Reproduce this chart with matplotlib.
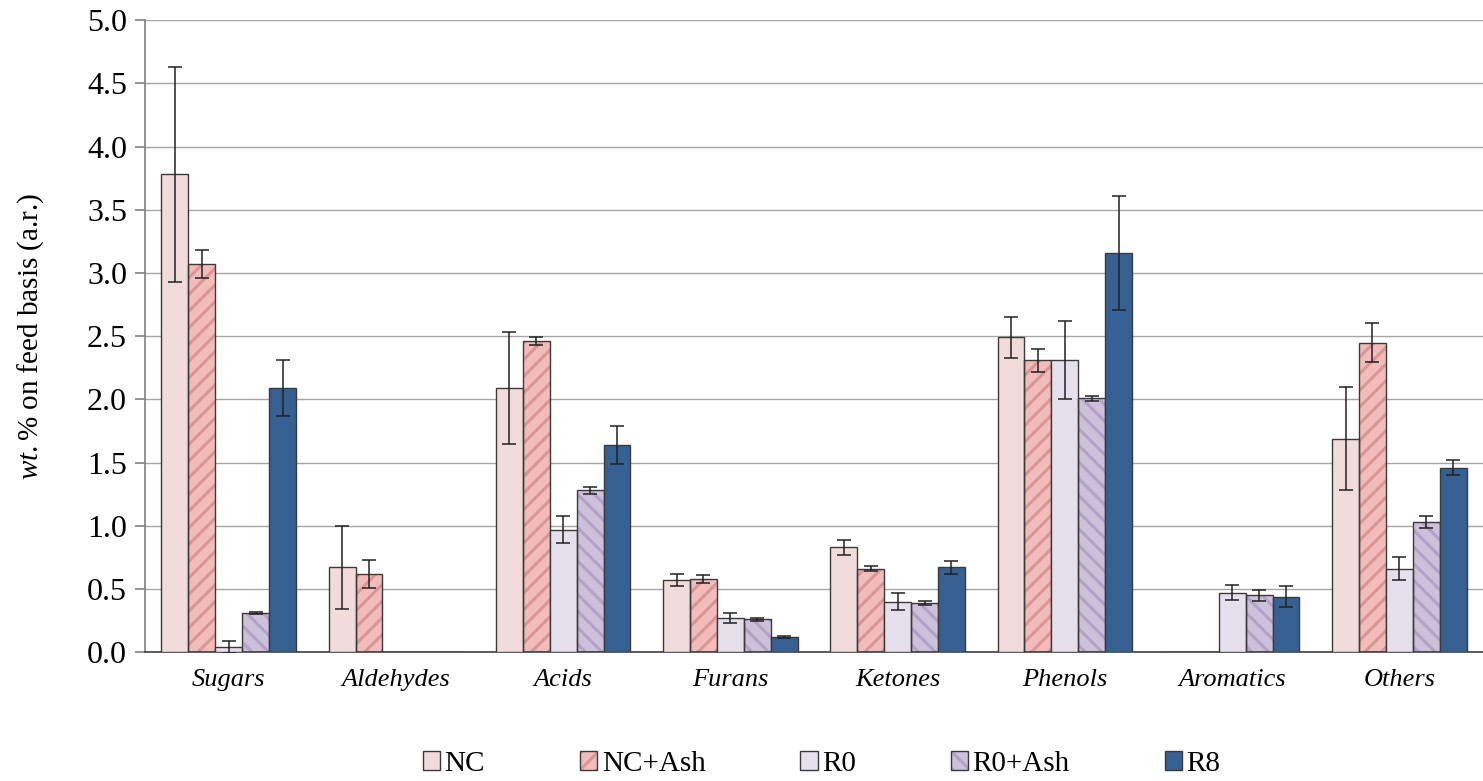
import matplotlib.pyplot as plt
from matplotlib.patches import Patch
import numpy as np

plt.rcParams['font.family'] = ['Liberation Serif', 'DejaVu Serif']
plt.rcParams['mathtext.fontset'] = 'custom'
plt.rcParams['mathtext.rm'] = 'Liberation Serif'
plt.rcParams['mathtext.it'] = 'Liberation Serif:italic'
plt.rcParams['hatch.linewidth'] = 2.2

categories = ["Sugars", "Aldehydes", "Acids", "Furans", "Ketones", "Phenols", "Aromatics", "Others"]
series = ["NC", "NC+Ash", "R0", "R0+Ash", "R8"]

nc = [3.78, 0.67, 2.09, 0.57, 0.83, 2.49, 0.0, 1.69]
nc_err = [0.85, 0.33, 0.44, 0.05, 0.06, 0.16, 0.0, 0.41]
nc_ash = [3.07, 0.62, 2.46, 0.58, 0.66, 2.31, 0.005, 2.45]
nc_ash_err = [0.11, 0.11, 0.03, 0.03, 0.02, 0.09, 0.0, 0.155]
r0 = [0.04, 0.005, 0.97, 0.27, 0.40, 2.31, 0.47, 0.66]
r0_err = [0.045, 0.0, 0.11, 0.04, 0.07, 0.31, 0.06, 0.09]
r0_ash = [0.31, 0.005, 1.28, 0.26, 0.39, 2.01, 0.45, 1.03]
r0_ash_err = [0.01, 0.0, 0.03, 0.01, 0.015, 0.02, 0.045, 0.05]
r8 = [2.09, 0.005, 1.64, 0.12, 0.67, 3.16, 0.44, 1.46]
r8_err = [0.22, 0.0, 0.15, 0.005, 0.05, 0.45, 0.08, 0.06]

values = [nc, nc_ash, r0, r0_ash, r8]
errors = [nc_err, nc_ash_err, r0_err, r0_ash_err, r8_err]
faces = ["#f2dcdb", "#f2bcbb", "#e6e0ec", "#ccc0da", "#376092"]
hatch_cols = [None, "#d99694", None, "#b3a2c7", None]
hatches = [None, "//", None, "\\\\", None]
edge = "#3a3a3a"

fig = plt.figure(figsize=(14.83, 7.81), dpi=100)
ax = fig.add_axes([0.0978, 0.165, 0.9022, 0.809])

x = np.arange(len(categories))
w = 0.161
handles = []
for i, (vals, errs) in enumerate(zip(values, errors)):
    pos = x + (i - 2) * w
    if hatches[i]:
        # hatch in its own colour, then the dark outline on top
        ax.bar(pos, vals, w, color=faces[i], edgecolor=hatch_cols[i], hatch=hatches[i],
               linewidth=0, zorder=2)
        ax.bar(pos, vals, w, fill=False, edgecolor=edge, linewidth=1.0, zorder=3)
        h = (Patch(facecolor=faces[i], edgecolor=hatch_cols[i], hatch=hatches[i], linewidth=0),
             Patch(fill=False, edgecolor=edge, linewidth=1.0))
    else:
        ax.bar(pos, vals, w, color=faces[i], edgecolor=edge, linewidth=1.0, zorder=3)
        h = Patch(facecolor=faces[i], edgecolor=edge, linewidth=1.0)
    mask = np.array(errs) > 0
    ax.errorbar(pos[mask], np.array(vals)[mask], yerr=np.array(errs)[mask], fmt='none',
                ecolor='#222222', elinewidth=1.1, capsize=5, capthick=1.1, zorder=4)
    handles.append(h)

ax.set_xlim(-0.5, 7.5)
ax.set_ylim(0, 5.0)
ax.set_yticks(np.arange(0, 5.01, 0.5))
ax.set_yticklabels([f"{v:.1f}" for v in np.arange(0, 5.01, 0.5)], fontsize=23)
ax.set_xticks(x)
ax.set_xticklabels(categories, fontsize=19, style='italic')
ax.tick_params(axis='x', length=0, pad=12)
ax.tick_params(axis='y', length=7, color='#808080', width=1.2, pad=6)
ax.grid(axis='y', color='#a6a6a6', linewidth=1.0, zorder=0)
ax.set_axisbelow(True)
for s in ['top', 'right']:
    ax.spines[s].set_visible(False)
ax.spines['left'].set_color('#808080')
ax.spines['left'].set_linewidth(1.2)
ax.spines['bottom'].set_color('#404040')
ax.spines['bottom'].set_linewidth(1.2)
ax.set_ylabel(r"$\it{wt.\%}$ on feed basis (a.r.)", fontsize=21)
ax.yaxis.set_label_coords(-0.074, 0.5)

fig.legend(handles, series, loc='center', bbox_to_anchor=(0.554, 0.022), ncol=5,
           frameon=False, fontsize=21, handlelength=0.6, handleheight=0.6,
           handletextpad=0.15, columnspacing=3.25)

fig.savefig("out.png", dpi=100)
